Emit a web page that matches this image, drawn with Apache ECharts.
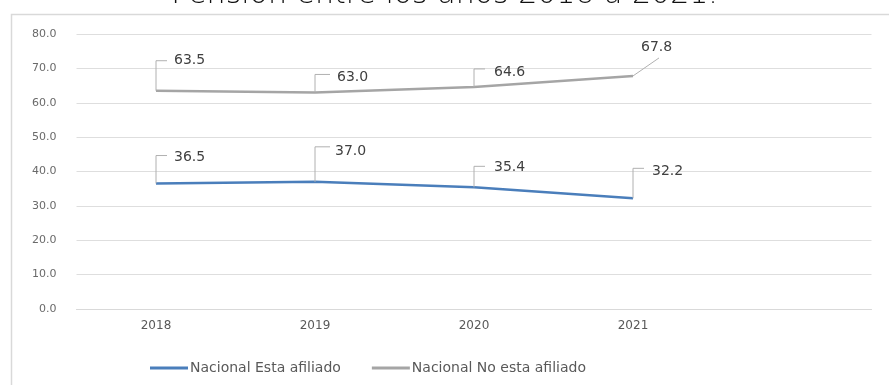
<!DOCTYPE html>
<html>
<head>
<meta charset="utf-8">
<script src="https://cdn.jsdelivr.net/npm/echarts@6/dist/echarts.min.js"></script>
<style>html,body{margin:0;padding:0;background:#fff;}#c{width:889px;height:385px;}</style>
</head>
<body>
<div id="c"></div>
<script>
var titleText = 'Pensión entre los años 2018 a 2021.';
var categories = ['2018', '2019', '2020', '2021', ''];
var yTicks = [0, 10, 20, 30, 40, 50, 60, 70, 80];
var seriesNames = ['Nacional Esta afiliado', 'Nacional No esta afiliado'];
var afiliado = [36.5, 37.0, 35.4, 32.2];
var noAfiliado = [63.5, 63.0, 64.6, 67.8];

// label callout layout (pixel offsets from each point): [stubDx, stubDy, textDx, textDy]
var layoutAfiliado = [[11, -28, 18, -26], [15, -35, 20, -30], [11, -21, 20, -20], [11, -30, 19, -27]];
var layoutNoAfiliado = [[11, -30, 18, -30], [15, -18, 22, -15], [11, -18, 20, -15], [26, -18, 8, -29]];

var FONT = '"DejaVu Sans", "Liberation Sans", sans-serif';
var chart = echarts.init(document.getElementById('c'));

function toPairs(arr) { return arr.map(function (v, i) { return [i, v]; }); }

function makeLabelRender(layout, diagonalLast) {
  return function (params, api) {
    var i = params.dataIndex;
    var v = api.value(1);
    var p = api.coord([api.value(0), v]);
    var L = layout[i];
    var lastIsDiag = diagonalLast && i === layout.length - 1;
    var pts = lastIsDiag
      ? [[p[0], p[1]], [p[0] + L[0], p[1] + L[1]]]
      : [[p[0], p[1]], [p[0], p[1] + L[1]], [p[0] + L[0], p[1] + L[1]]];
    return {
      type: 'group',
      children: [
        { type: 'polyline', shape: { points: pts }, style: { stroke: '#b0b0b0', lineWidth: 1, fill: null } },
        { type: 'text', style: {
            text: v.toFixed(1), x: p[0] + L[2], y: p[1] + L[3],
            fill: '#404040', font: '14px ' + FONT,
            align: 'left', verticalAlign: 'middle'
        } }
      ]
    };
  };
}

chart.setOption({
  animation: false,
  title: {
    text: titleText, left: 'center', top: -25,
    textStyle: { fontFamily: 'DejaVu Sans', fontWeight: 200, fontSize: 30, color: '#111' }
  },
  graphic: [{
    type: 'rect', left: 9, top: 12, silent: true, z: -10,
    shape: { x: 0, y: 0, width: 900, height: 400 },
    style: { fill: null, stroke: '#d9d9d9', lineWidth: 1.5 }
  }],
  grid: { left: 76.5, right: 17.5, top: 34, bottom: 76 },
  legend: {
    data: seriesNames, bottom: 5, left: 145, itemWidth: 38, itemHeight: 3, itemGap: 31,
    icon: 'rect',
    textStyle: { fontSize: 14, color: '#595959', fontFamily: 'DejaVu Sans', padding: [0, 0, 0, -3] }
  },
  xAxis: {
    type: 'category', data: categories, boundaryGap: true,
    axisLine: { lineStyle: { color: '#d9d9d9' } },
    axisTick: { show: false },
    axisLabel: { color: '#595959', fontSize: 12, margin: 11, fontFamily: 'DejaVu Sans' }
  },
  yAxis: {
    type: 'value', min: yTicks[0], max: yTicks[yTicks.length - 1], interval: 10,
    axisLine: { show: false }, axisTick: { show: false },
    splitLine: { lineStyle: { color: '#dedede' } },
    axisLabel: { color: '#6a6a6a', fontSize: 11, margin: 20, fontFamily: 'DejaVu Sans',
      formatter: function (v) { return v.toFixed(1); } }
  },
  series: [
    { name: seriesNames[0], type: 'line', data: afiliado, showSymbol: false, symbol: 'none',
      lineStyle: { color: '#4a7ebb', width: 2.5 }, itemStyle: { color: '#4a7ebb' }, z: 3 },
    { name: seriesNames[1], type: 'line', data: noAfiliado, showSymbol: false, symbol: 'none',
      lineStyle: { color: '#a5a5a5', width: 2.5 }, itemStyle: { color: '#a5a5a5' }, z: 3 },
    { type: 'custom', data: toPairs(afiliado), encode: { x: 0, y: 1 }, z: 4,
      renderItem: makeLabelRender(layoutAfiliado, false) },
    { type: 'custom', data: toPairs(noAfiliado), encode: { x: 0, y: 1 }, z: 4,
      renderItem: makeLabelRender(layoutNoAfiliado, true) }
  ]
});
</script>
</body>
</html>
